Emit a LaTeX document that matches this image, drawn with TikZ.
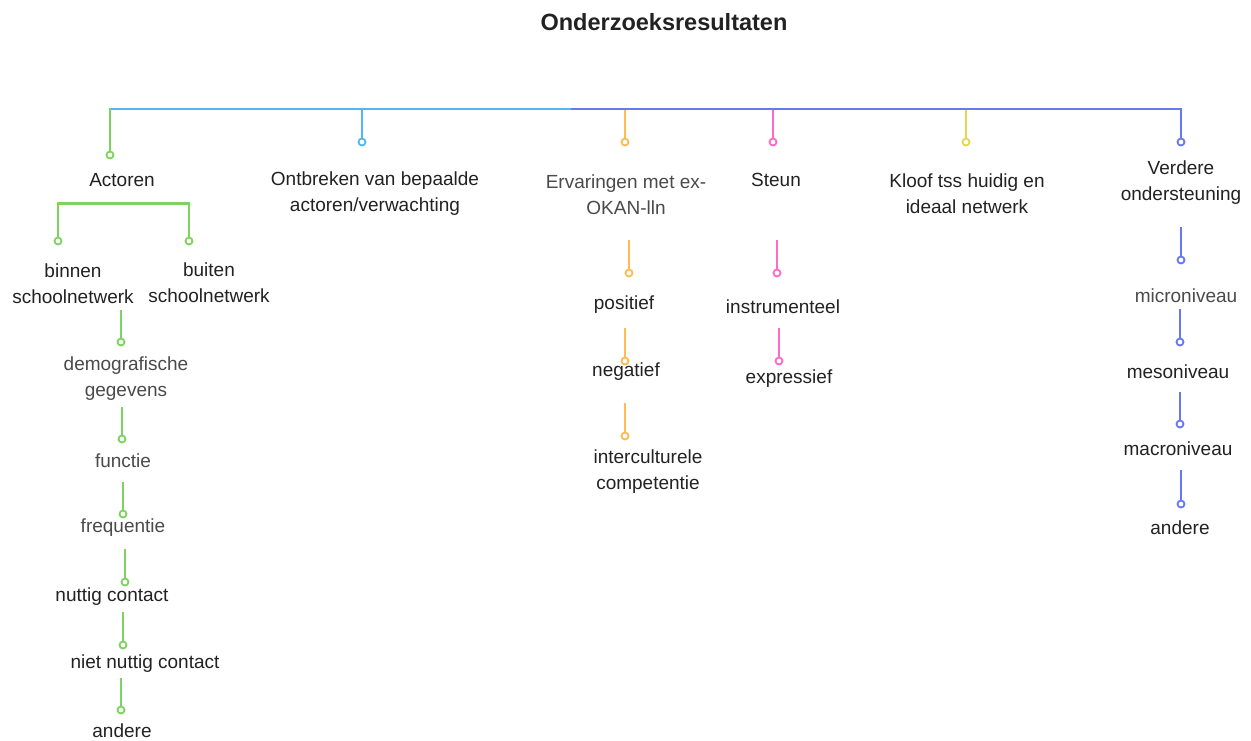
\documentclass[tikz,border=0pt]{standalone}
\usepackage{fontspec}
\setmainfont{Liberation Sans}
\definecolor{cgreen}{HTML}{7DD35F}
\definecolor{cblue}{HTML}{52B6F5}
\definecolor{cindigo}{HTML}{6678F2}
\definecolor{corange}{HTML}{FFBA52}
\definecolor{cpink}{HTML}{FF6AC9}
\definecolor{cyellow}{HTML}{E5D650}
\definecolor{txtk}{HTML}{222222}
\definecolor{txtg}{HTML}{4A4A4A}
\begin{document}
\begin{tikzpicture}[x=1pt,y=-1pt,
  lbl/.style={inner sep=0pt, align=center, text=txtk, font=\fontsize{19}{26}\selectfont},
  glbl/.style={lbl, text=txtg},
  dot/.style={circle, draw=#1, fill=white, line width=1.8pt, minimum size=7pt, inner sep=0pt},
  conn/.style={draw=#1, line width=2.5pt}]
\useasboundingbox (0,0) rectangle (1251,740);
\fill[white] (0,0) rectangle (1251,740);

\node[inner sep=0pt, text=txtk, font=\fontsize{23.5}{28}\selectfont\bfseries] (title) at (664,22) {Onderzoeksresultaten};

% top bar
\coordinate (barL) at (110,109);
\coordinate (barM) at (571,109);
\coordinate (barR) at (1181,109);
\draw[conn=cindigo] (barM) -- (barR) -- (1181,138);
\draw[conn=cblue] (barL) -- (barM);

% first-level dots
\node[dot=cgreen] (dA) at (110,155) {};
\node[dot=cblue] (dB) at (362,142) {};
\node[dot=corange] (dC) at (625,142) {};
\node[dot=cpink] (dD) at (773,142) {};
\node[dot=cyellow] (dE) at (966,142) {};
\node[dot=cindigo] (dF) at (1181,142) {};
\draw[conn=cgreen] (110,108) -- (dA.north);
\draw[conn=cblue] (362,109) -- (dB.north);
\draw[conn=corange] (625,110) -- (dC.north);
\draw[conn=cpink] (773,110) -- (dD.north);
\draw[conn=cyellow] (966,110) -- (dE.north);
\draw[conn=cindigo] (1181,110) -- (dF.north);

% first-level labels
\node[lbl] (A) at (122,180) {Actoren};
\node[lbl] (B) at (375,194) {Ontbreken van bepaalde\\actoren/verwachting};
\node[glbl] (C) at (626,195) {Ervaringen met ex-\\OKAN-lln};
\node[lbl] (D) at (776,180) {Steun};
\node[lbl] (E) at (967,194) {Kloof tss huidig en\\ideaal netwerk};
\node[lbl] (F) at (1181,183) {Verdere\\ondersteuning};

% Actoren bracket
\node[dot=cgreen] (dA1) at (58,241) {};
\node[dot=cgreen] (dA2) at (189,241) {};
\draw[conn=cgreen] (dA1.north) -- ++(0,-33) -| (dA2.north);
\node[lbl] (A1) at (73,284) {binnen\\schoolnetwerk};
\node[lbl] (A2) at (209,283) {buiten\\schoolnetwerk};

% Actoren chain
\coordinate (t1) at (121,310);
\node[dot=cgreen] (g1) at (121,342) {};
\draw[conn=cgreen] (t1) -- (g1.north);
\node[glbl] (n1) at (126,379) {demografische\\gegevens};
\coordinate (t2) at (122,407);
\node[dot=cgreen] (g2) at (122,439) {};
\draw[conn=cgreen] (t2) -- (g2.north);
\node[glbl] (n2) at (123,461) {functie};
\coordinate (t3) at (123,482);
\node[dot=cgreen] (g3) at (123,514) {};
\draw[conn=cgreen] (t3) -- (g3.north);
\node[glbl] (n3) at (123,528) {frequentie};
\coordinate (t4) at (125,549);
\node[dot=cgreen] (g4) at (125,582) {};
\draw[conn=cgreen] (t4) -- (g4.north);
\node[lbl] (n4) at (112,597) {nuttig contact};
\coordinate (t5) at (123,612);
\node[dot=cgreen] (g5) at (123,645) {};
\draw[conn=cgreen] (t5) -- (g5.north);
\node[lbl] (n5) at (145,664) {niet nuttig contact};
\coordinate (t6) at (121,678);
\node[dot=cgreen] (g6) at (121,710) {};
\draw[conn=cgreen] (t6) -- (g6.north);
\node[lbl] (n6) at (122,731) {andere};

% Ervaringen chain
\coordinate (o1t) at (629,240);
\node[dot=corange] (o1) at (629,273) {};
\draw[conn=corange] (o1t) -- (o1.north);
\node[lbl] (p1) at (624,305) {positief};
\coordinate (o2t) at (625,328);
\node[dot=corange] (o2) at (625,361) {};
\draw[conn=corange] (o2t) -- (o2.north);
\node[lbl] (p2) at (626,372) {negatief};
\coordinate (o3t) at (625,403);
\node[dot=corange] (o3) at (625,436) {};
\draw[conn=corange] (o3t) -- (o3.north);
\node[lbl] (p3) at (648,472) {interculturele\\competentie};

% Steun chain
\coordinate (s1t) at (777,240);
\node[dot=cpink] (s1) at (777,273) {};
\draw[conn=cpink] (s1t) -- (s1.north);
\node[lbl] (q1) at (783,307) {instrumenteel};
\coordinate (s2t) at (779,328);
\node[dot=cpink] (s2) at (779,361) {};
\draw[conn=cpink] (s2t) -- (s2.north);
\node[lbl] (q2) at (789,379) {expressief};

% Verdere chain
\coordinate (v1t) at (1181,227);
\node[dot=cindigo] (v1) at (1181,260) {};
\draw[conn=cindigo] (v1t) -- (v1.north);
\node[glbl] (r1) at (1186,296) {microniveau};
\coordinate (v2t) at (1180,309);
\node[dot=cindigo] (v2) at (1180,342) {};
\draw[conn=cindigo] (v2t) -- (v2.north);
\node[lbl] (r2) at (1178,372) {mesoniveau};
\coordinate (v3t) at (1180,392);
\node[dot=cindigo] (v3) at (1180,424) {};
\draw[conn=cindigo] (v3t) -- (v3.north);
\node[lbl] (r3) at (1178,449) {macroniveau};
\coordinate (v4t) at (1181,470);
\node[dot=cindigo] (v4) at (1181,504) {};
\draw[conn=cindigo] (v4t) -- (v4.north);
\node[lbl] (r4) at (1180,528) {andere};
\end{tikzpicture}
\end{document}
